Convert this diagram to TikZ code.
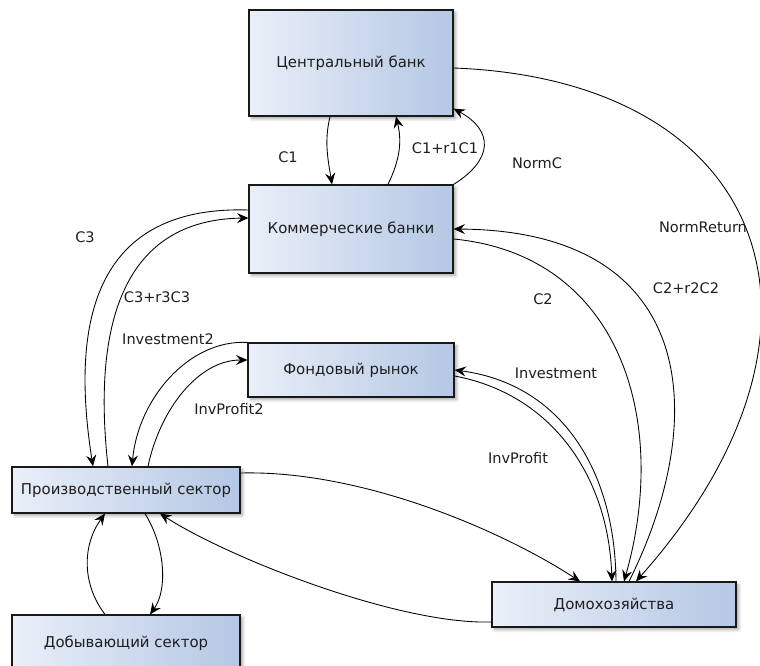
\documentclass[tikz,border=0pt]{standalone}
\usepackage{fontspec}
\setmainfont{DejaVu Sans}
\usepackage{tikz}
\usetikzlibrary{arrows.meta,positioning,calc,shadows.blur}
\definecolor{boxL}{RGB}{234,239,248}
\definecolor{boxR}{RGB}{180,199,228}
\definecolor{txt}{RGB}{30,30,30}
\tikzset{
  ecoBox/.style={draw=black!90, line width=0.9pt, left color=boxL, right color=boxR,
    blur shadow={shadow xshift=2pt, shadow yshift=-2pt, shadow blur steps=6, shadow opacity=35},
    font=\fontsize{11.2}{13}\selectfont, text=txt, align=center, inner sep=0pt},
  %% Flow arrows
  flow/.style={-{Stealth[length=8.5pt, width=7.5pt, inset=3pt]}, line width=0.65pt, black},
  %% Flow labels
  flowlbl/.style={font=\fontsize{10.9}{12}\selectfont, text=txt, inner sep=1pt},
}

\begin{document}
\begin{tikzpicture}[x=0.75pt, y=-0.75pt]
\useasboundingbox (0,0) rectangle (760,666);

%% Sectors
\node[ecoBox, minimum width=153pt, minimum height=79.5pt]  (cb) at (351,63)    {Центральный банк};
\node[ecoBox, minimum width=153pt, minimum height=66pt]    (kb) at (351,229)   {Коммерческие банки};
\node[ecoBox, minimum width=154.5pt, minimum height=40.5pt](fr) at (351,370)   {Фондовый рынок};
\node[ecoBox, minimum width=171pt, minimum height=34.5pt]  (ps) at (126,490)   {Производственный сектор};
\node[ecoBox, minimum width=171pt, minimum height=42pt]    (ds) at (126,643)   {Добывающий сектор};
\node[ecoBox, minimum width=183pt, minimum height=33.75pt] (dh) at (614,604.5) {Домохозяйства};

%% Central bank <-> commercial banks
\draw[flow] ([xshift=-15.75pt]cb.south) .. controls +(-6,25) and +(-4,-25) .. ([xshift=-14.25pt]kb.north);
\draw[flow] ([xshift=27.75pt]kb.north) .. controls +(12,-25) and +(6,25) .. ([xshift=33.75pt]cb.south);
\draw[flow] (kb.north east) .. controls +(40,-25) and +(40,22) .. ([yshift=6pt]cb.south east);
\draw[flow] ([yshift=-3.75pt]cb.east) .. controls +(317,12) and +(224,-252) .. ([xshift=16.5pt]dh.north);

%% Commercial banks <-> households
\draw[flow] ([yshift=-7.5pt]kb.east) .. controls +(166,16) and +(46,-162) .. ([xshift=7.5pt]dh.north);
\draw[flow] ([xshift=11.25pt]dh.north) .. controls +(81,-162) and +(246,2) .. (kb.east);

%% Commercial banks <-> production
\draw[flow] ([yshift=14.25pt]kb.west) .. controls +(-165,-5) and +(-20,-127) .. ([xshift=-24.75pt]ps.north);
\draw[flow] ([xshift=-13.5pt]ps.north) .. controls +(-13,-117) and +(-139,2) .. ([yshift=8.25pt]kb.west);

%% Stock market
\draw[flow] (fr.north west) .. controls +(-59,-3) and +(6,-67) .. ([xshift=4.5pt]ps.north);
\draw[flow] ([xshift=16.5pt]ps.north) .. controls +(12,-57) and +(-49,0) .. ([yshift=7.5pt]fr.west);
\draw[flow] ([xshift=1.5pt]dh.north) .. controls +(-1,-112) and +(106,14) .. (fr.east);
\draw[flow] ([yshift=-4.5pt]fr.east) .. controls +(96,18) and +(-4,-107) .. ([xshift=-1.5pt]dh.north);

%% Production <-> households, mining
\draw[flow] ([yshift=12.75pt]ps.east) .. controls +(120,-3) and +(-80,-52) .. ([xshift=-25.5pt]dh.north);
\draw[flow] ([yshift=-13.1pt]dh.west) .. controls +(-92,3) and +(70,45) .. ([xshift=25.5pt]ps.south);
\draw[flow] ([xshift=14.25pt]ps.south) .. controls +(20,32) and +(18,-25) .. ([xshift=18pt]ds.north);
\draw[flow] ([xshift=-15.75pt]ds.north) .. controls +(-23,-30) and +(-23,32) .. ([xshift=-15.75pt]ps.south);

%% Labels
\node[flowlbl] (lC1)    at (288,157) {C1};
\node[flowlbl] (lC1r)   at (445,148) {C1+r1C1};
\node[flowlbl] (lNormC) at (537,163) {NormC};
\node[flowlbl] (lNormR) at (703,227) {NormReturn};
\node[flowlbl] (lC2r)   at (686,288) {C2+r2C2};
\node[flowlbl] (lC2)    at (543,299) {C2};
\node[flowlbl] (lC3)    at (85,237)  {C3};
\node[flowlbl] (lC3r)   at (157,297) {C3+r3C3};
\node[flowlbl] (lInv2)  at (168,339) {Investment2};
\node[flowlbl] (lProf2) at (229,409) {InvProfit2};
\node[flowlbl] (lInv)   at (556,373) {Investment};
\node[flowlbl] (lProf)  at (518,458) {InvProfit};

\end{tikzpicture}
\end{document}
